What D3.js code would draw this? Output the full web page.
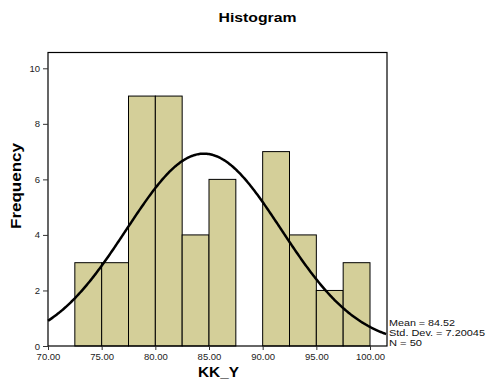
<!DOCTYPE html>
<html>
<head>
<meta charset="utf-8">
<script src="https://cdn.jsdelivr.net/npm/d3@7"></script>
<style>
  body { margin: 0; background: #fff; }
  text { font-family: "Liberation Sans", Arial, sans-serif; }
</style>
</head>
<body>
<svg width="488" height="381"></svg>
<script>
// bins of KK_Y (width 2.5) and their counts
var binStarts = [72.5, 75, 77.5, 80, 82.5, 85, 87.5, 90, 92.5, 95, 97.5];
var counts    = [3, 3, 9, 9, 4, 6, 0, 7, 4, 2, 3];
var binWidth = 2.5;

var xTicks = [70, 75, 80, 85, 90, 95, 100];
var yTicks = [0, 2, 4, 6, 8, 10];

var mean = 84.52, sd = 7.20045, n = 50;
var legendLines = ["Mean = 84.52", "Std. Dev. = 7.20045", "N = 50"];

var svg = d3.select("svg");

// plot frame
var box = { left: 48, top: 52.5, right: 387, bottom: 346 };

var x = d3.scaleLinear().domain([70, 100]).range([48, 370]);
var y = d3.scaleLinear().domain([0, 10]).range([346, 68.3]);

// SPSS titles come out a bit wide, so stretch them to the measured widths
svg.append("text")
    .attr("x", 257.5).attr("y", 22)
    .attr("text-anchor", "middle")
    .attr("font-size", 13).attr("font-weight", "bold")
    .attr("textLength", 78).attr("lengthAdjust", "spacingAndGlyphs")
    .text("Histogram");

// bars
svg.append("g").selectAll("rect")
    .data(binStarts.map(function(d, i) { return { x0: d, c: counts[i] }; }))
    .join("rect")
    .filter(function(d) { return d.c > 0; })
    .attr("x", function(d) { return x(d.x0); })
    .attr("y", function(d) { return y(d.c); })
    .attr("width", function(d) { return x(d.x0 + binWidth) - x(d.x0); })
    .attr("height", function(d) { return y(0) - y(d.c); })
    .attr("fill", "#d4cf99")
    .attr("stroke", "#000")
    .attr("stroke-width", 1);

// normal curve from the stats shown in the legend
var xEnd = x.invert(box.right);
var curvePts = d3.range(70, xEnd + 0.001, 0.1).map(function(v) {
    var z = (v - mean) / sd;
    return [v, n * binWidth * Math.exp(-0.5 * z * z) / (sd * Math.sqrt(2 * Math.PI))];
});
svg.append("path")
    .datum(curvePts)
    .attr("fill", "none")
    .attr("stroke", "#000")
    .attr("stroke-width", 2.5)
    .attr("d", d3.line().x(function(d) { return x(d[0]); }).y(function(d) { return y(d[1]); }));

// frame
svg.append("rect")
    .attr("x", box.left).attr("y", box.top)
    .attr("width", box.right - box.left).attr("height", box.bottom - box.top)
    .attr("fill", "none").attr("stroke", "#000").attr("stroke-width", 1.2);

// axes
var yAxis = svg.append("g")
    .attr("transform", "translate(" + box.left + ",0)")
    .call(d3.axisLeft(y).tickValues(yTicks).tickSize(5).tickPadding(3).tickFormat(d3.format("d")));
var xAxis = svg.append("g")
    .attr("transform", "translate(0," + box.bottom + ")")
    .call(d3.axisBottom(x).tickValues(xTicks).tickSize(4).tickPadding(3).tickFormat(d3.format(".2f")));
[yAxis, xAxis].forEach(function(a) {
    a.select(".domain").remove();
    a.selectAll("line").attr("stroke", "#333");
    a.selectAll("text").attr("font-size", 9.5).attr("fill", "#222")
        .attr("font-family", "Liberation Sans, Arial, sans-serif");
});

svg.append("text")
    .attr("transform", "translate(21,186) rotate(-90)")
    .attr("text-anchor", "middle")
    .attr("font-size", 14).attr("font-weight", "bold")
    .attr("textLength", 86).attr("lengthAdjust", "spacingAndGlyphs")
    .text("Frequency");

svg.append("text")
    .attr("x", 218.5).attr("y", 377)
    .attr("text-anchor", "middle")
    .attr("font-size", 14).attr("font-weight", "bold")
    .attr("textLength", 41).attr("lengthAdjust", "spacingAndGlyphs")
    .text("KK_Y");

var legendWidths = [66, 96, 33];
svg.append("g").selectAll("text")
    .data(legendLines)
    .join("text")
    .attr("x", 389)
    .attr("y", function(d, i) { return 326.4 + i * 9.8; })
    .attr("font-size", 8.5)
    .attr("fill", "#111")
    .attr("textLength", function(d, i) { return legendWidths[i]; })
    .attr("lengthAdjust", "spacingAndGlyphs")
    .text(function(d) { return d; });
</script>
</body>
</html>
